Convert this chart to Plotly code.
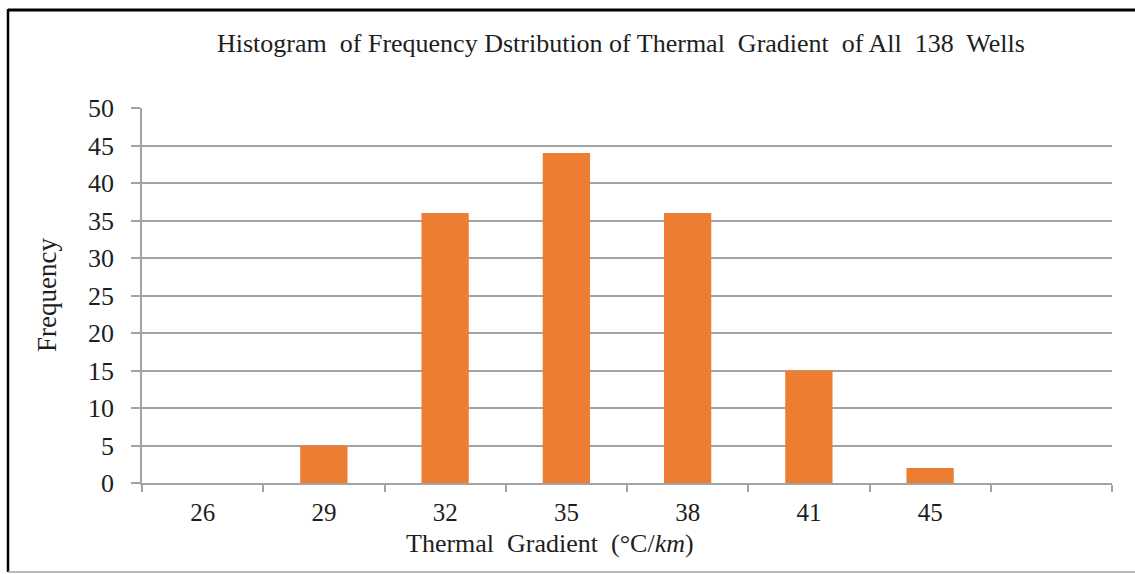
import plotly.graph_objects as go

categories = ["26", "29", "32", "35", "38", "41", "45", " "]
frequency = [0, 5, 36, 44, 36, 15, 2, None]
y_ticks = [0, 5, 10, 15, 20, 25, 30, 35, 40, 45, 50]

W, H = 1135, 574
L, R, T, B = 142, 23, 108, 91
FONT = "Liberation Serif, Times New Roman, serif"
GRID = "#a3a3a3"
TXT = "#1e1e1e"

def px(x):
    return (x - L) / (W - L - R)

def py(y):
    return (H - B - y) / (H - T - B)

fig = go.Figure()
fig.add_trace(go.Bar(x=categories, y=frequency, marker=dict(color="#ED7D31", line=dict(width=0))))

fig.update_layout(
    width=W, height=H,
    margin=dict(l=L, r=R, t=T, b=B, pad=0),
    paper_bgcolor="white", plot_bgcolor="white",
    bargap=0.61,
    showlegend=False,
    font=dict(family=FONT, size=26, color=TXT),
)
fig.update_xaxes(
    type="category", categoryorder="array", categoryarray=categories,
    showgrid=False, showline=True, linecolor=GRID, linewidth=1.5,
    ticks="outside", tickson="boundaries", ticklen=7, tickcolor=GRID, tickwidth=1.5,
    ticklabelstandoff=6, tickfont=dict(size=25, color=TXT),
)
fig.update_yaxes(
    range=[0, 50], tickvals=y_ticks, showgrid=True, gridcolor=GRID, gridwidth=1.5,
    showline=True, linecolor=GRID, linewidth=1.5, zeroline=False,
    ticks="outside", ticklen=9, tickcolor=GRID, tickwidth=1.5,
    ticklabelstandoff=12, tickfont=dict(size=26, color=TXT),
)

# Titles as annotations
fig.add_annotation(text="Histogram  of Frequency Dstribution of Thermal  Gradient  of All  138  Wells",
                   xref="paper", yref="paper", x=px(621), y=py(44), showarrow=False,
                   xanchor="center", yanchor="middle", font=dict(size=26, family=FONT, color=TXT))
fig.add_annotation(text="Thermal  Gradient  (°C/<i>km</i>)",
                   xref="paper", yref="paper", x=px(550), y=py(543), showarrow=False,
                   xanchor="center", yanchor="middle", font=dict(size=26, family=FONT, color=TXT))
fig.add_annotation(text="Frequency", textangle=-90,
                   xref="paper", yref="paper", x=px(47), y=py(295), showarrow=False,
                   xanchor="center", yanchor="middle", font=dict(size=27, family=FONT, color=TXT))

# Frame
fig.add_shape(type="line", xref="paper", yref="paper", x0=px(8), x1=px(1135), y0=py(10), y1=py(10),
              line=dict(color="black", width=3))
fig.add_shape(type="line", xref="paper", yref="paper", x0=px(8), x1=px(8), y0=py(9), y1=py(572),
              line=dict(color="black", width=2.5))
fig.add_shape(type="line", xref="paper", yref="paper", x0=px(8), x1=px(1135), y0=py(572), y1=py(572),
              line=dict(color="#a0a0a0", width=1.5))

fig.write_html("out.html")
